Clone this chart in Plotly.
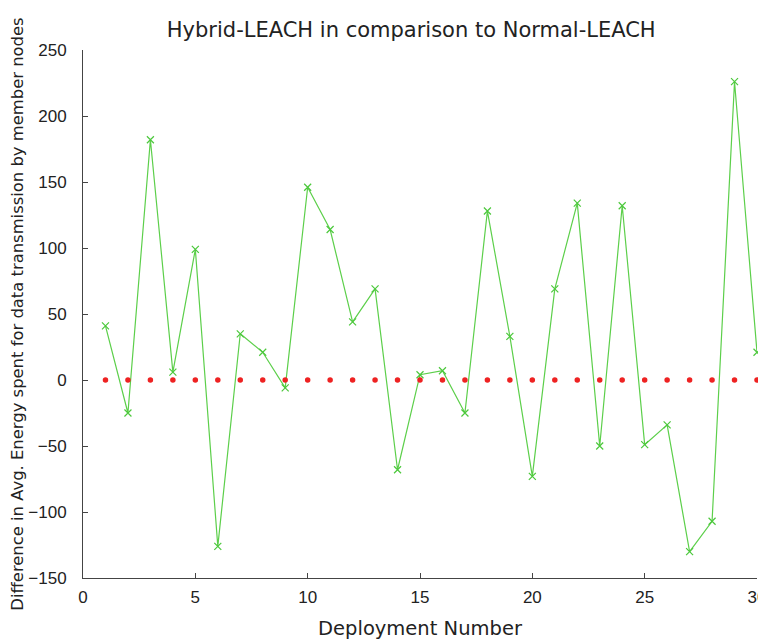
import plotly.graph_objects as go

deployment = list(range(1, 31))
hybrid_diff = [41, -25, 182, 6, 99, -126, 35, 21, -6, 146,
               114, 44, 69, -68, 4, 7, -25, 128, 33, -73,
               69, 134, -50, 132, -49, -34, -130, -107, 226, 21]
baseline = [0] * 30

fig = go.Figure()
fig.add_trace(go.Scatter(
    x=deployment, y=hybrid_diff, mode="lines+markers",
    line=dict(color="#5ccf4a", width=1.2),
    marker=dict(symbol="x-thin", size=7, line=dict(color="#4cc83c", width=1.2)),
    showlegend=False, cliponaxis=False))
fig.add_trace(go.Scatter(
    x=deployment, y=baseline, mode="markers",
    marker=dict(symbol="circle", size=5.5, color="#ee2222"),
    showlegend=False, cliponaxis=False))

W, H = 766, 636
tick_font = "Liberation Sans, Arial, Helvetica, sans-serif"
title_font = "DejaVu Sans, Verdana, sans-serif"
fig.update_layout(
    width=W, height=H,
    margin=dict(l=75, r=17, t=42, b=66),
    paper_bgcolor="white", plot_bgcolor="white",
    font=dict(family=tick_font, size=17, color="#222"),
    title=dict(text="Hybrid-LEACH in comparison to Normal-LEACH",
               x=0.487, xanchor="center", xref="paper", y=1 - 22 / H, yref="container",
               yanchor="middle", font=dict(family=title_font, size=21, color="#222")),
)
fig.update_xaxes(range=[0, 30], tickmode="array", tickvals=[0, 5, 10, 15, 20, 25, 30],
                 ticks="inside", ticklen=5, tickcolor="#444", automargin=False,
                 ticklabelstandoff=4,
                 showline=True, linecolor="#444", linewidth=1, showgrid=False, zeroline=False,
                 title=dict(text="Deployment Number", standoff=14,
                            font=dict(family=title_font, size=19.5)))
fig.update_yaxes(range=[-150, 250], tickmode="array",
                 tickvals=[-150, -100, -50, 0, 50, 100, 150, 200, 250],
                 ticks="inside", ticklen=5, tickcolor="#444", automargin=False,
                 ticklabelstandoff=12,
                 showline=True, linecolor="#444", linewidth=1, showgrid=False, zeroline=False,
                 title=dict(text="Difference in Avg. Energy spent for data transmission by member nodes",
                            standoff=28, font=dict(family=title_font, size=16.4)))

fig.write_html("out.html")
